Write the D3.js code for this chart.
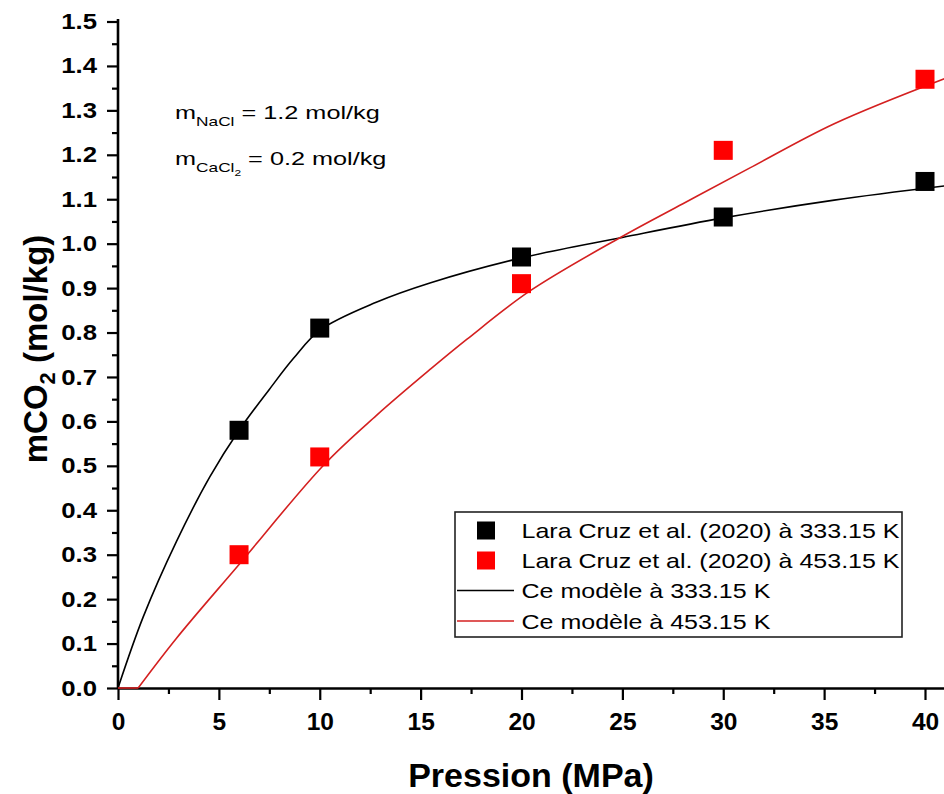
<!DOCTYPE html>
<html>
<head>
<meta charset="utf-8">
<script src="https://cdn.jsdelivr.net/npm/d3@7"></script>
<style>
  html, body { margin: 0; padding: 0; background: #fff; }
  svg { display: block; }
  text { font-family: "Liberation Sans", Arial, sans-serif; }
</style>
</head>
<body>
<svg id="chart" width="944" height="794"></svg>
<script>
// ---- Data ----
const pressureExp = [6, 10, 20, 30, 40];
const exp333 = [0.58, 0.81, 0.97, 1.06, 1.14];
const exp453 = [0.30, 0.52, 0.91, 1.21, 1.37];

const modelP333 = [0, 1.25, 2.9, 4.55, 6, 7.5, 8.7, 10, 12.8, 15.5, 20, 25, 30, 35.5, 41];
const model333  = [0, 0.16, 0.33, 0.475, 0.58, 0.672, 0.742, 0.805, 0.868, 0.912, 0.968, 1.014, 1.058, 1.098, 1.13];

const modelP453 = [0, 1.0, 2.9, 6, 10.2, 12.8, 15.5, 17.3, 20.4, 24.9, 28, 31.3, 35.5, 41];
const model453  = [0, 0, 0.112, 0.278, 0.502, 0.613, 0.718, 0.785, 0.893, 1.014, 1.09, 1.17, 1.27, 1.372];

const xTicks = [0, 5, 10, 15, 20, 25, 30, 35, 40];
const yTicks = [0.0, 0.1, 0.2, 0.3, 0.4, 0.5, 0.6, 0.7, 0.8, 0.9, 1.0, 1.1, 1.2, 1.3, 1.4, 1.5];

const legendLabels = [
  "Lara Cruz et al. (2020) à 333.15 K",
  "Lara Cruz et al. (2020) à 453.15 K",
  "Ce modèle à 333.15 K",
  "Ce modèle à 453.15 K"
];

const colBlack = "#000000";
const colRedPt = "#ff0000";
const colRedLine = "#d42020";

// ---- Layout ----
const svg = d3.select("#chart");
const x0 = 118, xPerUnit = 20.175;
const x = d3.scaleLinear().domain([0, 41.2]).range([x0, x0 + 41.2 * xPerUnit]);
const y = d3.scaleLinear().domain([0, 1.5]).range([688, 21.5]);

svg.append("defs").append("clipPath").attr("id", "plotclip")
  .append("rect").attr("x", x0).attr("y", 0).attr("width", 944 - x0).attr("height", 690);

// ---- Axes ----
const xMinor = d3.range(2.5, 41, 5);
const yMinor = d3.range(0.05, 1.5, 0.1);

const gx = svg.append("g").attr("transform", `translate(0,${y(0)})`);
gx.call(d3.axisBottom(x).tickValues(xTicks).tickFormat(d3.format("d")).tickSize(12).tickPadding(12.5).tickSizeOuter(0));
const gxm = svg.append("g").attr("transform", `translate(0,${y(0)})`);
gxm.call(d3.axisBottom(x).tickValues(xMinor).tickFormat("").tickSize(6).tickSizeOuter(0));
gxm.select(".domain").remove();

const gy = svg.append("g").attr("transform", `translate(${x0},0)`);
gy.call(d3.axisLeft(y).tickValues(yTicks).tickFormat(d3.format(".1f")).tickSize(11).tickPadding(10).tickSizeOuter(0));
const gym = svg.append("g").attr("transform", `translate(${x0},0)`);
gym.call(d3.axisLeft(y).tickValues(yMinor).tickFormat("").tickSize(6).tickSizeOuter(0));
gym.select(".domain").remove();

[gx, gy].forEach(g => {
  g.select(".domain").attr("stroke", "#000").attr("stroke-width", 2.6);
  g.selectAll("text").attr("font-weight", "bold").attr("fill", "#000")
    .style("font-family", '"Liberation Sans", Arial, sans-serif');
});
gx.selectAll("text").attr("font-size", 24.5);
gy.selectAll("text").attr("font-size", 22)
  .attr("x", 0).attr("transform", "translate(-21,0) scale(1.17,1)");
[gx, gxm, gy, gym].forEach(g => g.selectAll(".tick line").attr("stroke", "#000").attr("stroke-width", 2.2));
gy.select(".domain").attr("d", `M0,${y(1.5) - 2.5}V${y(0)}`);

// ---- Axis titles ----
svg.append("text")
  .attr("x", 531).attr("y", 787)
  .attr("text-anchor", "middle")
  .attr("font-size", 34).attr("font-weight", "bold")
  .text("Pression (MPa)");

const yt = svg.append("text")
  .attr("transform", "translate(47,349) rotate(-90)")
  .attr("text-anchor", "middle")
  .attr("font-size", 33).attr("font-weight", "bold");
yt.append("tspan").text("mCO");
yt.append("tspan").attr("font-size", 22).attr("dy", 8).text("2");
yt.append("tspan").attr("dy", -8).text(" (mol/kg)");

// ---- Annotation ----
const a1 = svg.append("text").attr("transform", "translate(175,119) scale(1.33,1)").attr("font-size", 19);
a1.append("tspan").text("m");
a1.append("tspan").attr("font-size", 13).attr("dy", 7).text("NaCl");
a1.append("tspan").attr("dy", -7).text(" = 1.2 mol/kg");

const a2 = svg.append("text").attr("transform", "translate(175,165) scale(1.33,1)").attr("font-size", 19);
a2.append("tspan").text("m");
a2.append("tspan").attr("font-size", 13).attr("dy", 7).text("CaCl");
a2.append("tspan").attr("font-size", 9).attr("dy", 4).text("2");
a2.append("tspan").attr("dy", -11).text(" = 0.2 mol/kg");

// ---- Model curves ----
const plot = svg.append("g").attr("clip-path", "url(#plotclip)");
const smooth = d3.line().x(d => x(d[0])).y(d => y(d[1])).curve(d3.curveCatmullRom.alpha(0.5));
const straight = d3.line().x(d => x(d[0])).y(d => y(d[1]));

const m333 = modelP333.map((p, i) => [p, model333[i]]);
const m453 = modelP453.map((p, i) => [p, model453[i]]);

plot.append("path").datum(m333)
  .attr("d", smooth).attr("fill", "none").attr("stroke", colBlack).attr("stroke-width", 1.6);
// 453.15 K model: zero below onset pressure, then smooth rise
plot.append("path").datum(m453.slice(0, 2))
  .attr("d", straight).attr("fill", "none").attr("stroke", colRedLine).attr("stroke-width", 1.6);
plot.append("path").datum(m453.slice(1))
  .attr("d", smooth).attr("fill", "none").attr("stroke", colRedLine).attr("stroke-width", 1.6);

// ---- Experimental points ----
const sq = 19;
plot.selectAll(".p333").data(pressureExp.map((p, i) => [p, exp333[i]])).enter()
  .append("rect")
  .attr("x", d => x(d[0]) - sq / 2).attr("y", d => y(d[1]) - sq / 2)
  .attr("width", sq).attr("height", sq).attr("fill", colBlack);
plot.selectAll(".p453").data(pressureExp.map((p, i) => [p, exp453[i]])).enter()
  .append("rect")
  .attr("x", d => x(d[0]) - sq / 2).attr("y", d => y(d[1]) - sq / 2)
  .attr("width", sq).attr("height", sq).attr("fill", colRedPt);

// ---- Legend ----
const lg = svg.append("g");
lg.append("rect").attr("x", 455).attr("y", 512).attr("width", 447).attr("height", 125)
  .attr("fill", "#fff").attr("stroke", "#222").attr("stroke-width", 1.6);
const rowY = [530.5, 560.5, 590.5, 621];
const legendSwatch = [
  { type: "sq", color: colBlack },
  { type: "sq", color: colRedPt },
  { type: "ln", color: colBlack },
  { type: "ln", color: colRedLine }
];
legendLabels.forEach((lab, i) => {
  const s = legendSwatch[i];
  if (s.type === "sq") {
    lg.append("rect").attr("x", 486 - 9).attr("y", rowY[i] - 9).attr("width", 18).attr("height", 18).attr("fill", s.color);
  } else {
    lg.append("line").attr("x1", 457).attr("x2", 514).attr("y1", rowY[i]).attr("y2", rowY[i])
      .attr("stroke", s.color).attr("stroke-width", 1.6);
  }
  lg.append("text").attr("transform", `translate(521.5,${rowY[i] + 7.5}) scale(1.22,1)`)
    .attr("font-size", 20.5).attr("fill", "#000").text(lab);
});
</script>
</body>
</html>
